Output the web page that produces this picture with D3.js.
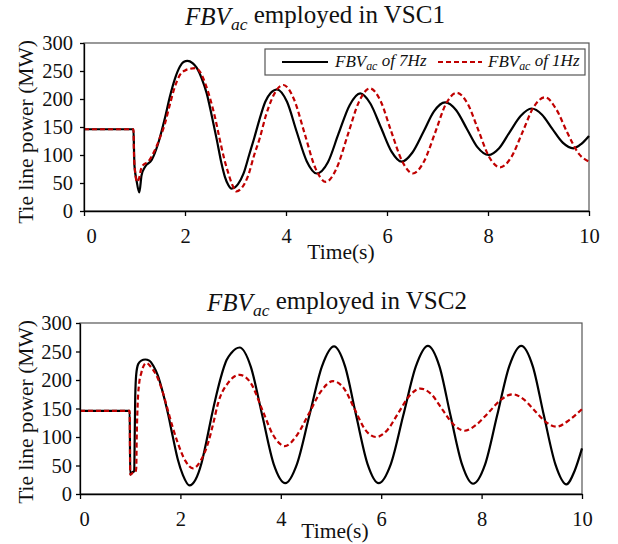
<!DOCTYPE html>
<html lang="en">
<head>
<meta charset="UTF-8">
<title>Tie line power</title>
<script src="https://d3js.org/d3.v7.min.js"></script>
<style>
  body { margin: 0; background: #fff; }
  svg text { font-family: "Liberation Serif", "Times New Roman", serif; fill: #111; }
  .axis path, .axis line { stroke: #000; stroke-width: 1.3px; }
  .axis text { font-size: 20.5px; font-family: "Liberation Serif", "Times New Roman", serif; fill: #111; }
  .frame { fill: none; stroke: #555; stroke-width: 1.2px; }
  .line7 { fill: none; stroke: #000; stroke-width: 2.2px; }
  .line1 { fill: none; stroke: #c00000; stroke-width: 2.2px; stroke-dasharray: 5,3; }
</style>
</head>
<body>
<div id="chart"></div>
<script>
// axis ticks
const xTicks = [0, 2, 4, 6, 8, 10];
const yTicks = [0, 50, 100, 150, 200, 250, 300];
const legendLabels = ["of 7Hz", "of 1Hz"];

// FBVac employed in VSC1  [time s, MW]
const vsc1_7Hz = [[0,146],[0.98,146],[0.99,110],[1.0,80],[1.04,55],[1.095,33],[1.14,64],[1.21,79],[1.34,91],[1.47,121],
  [1.60,165],[1.70,204],[1.80,236],[1.90,258],[1.97,266],[2.05,268],[2.15,264],[2.23,256],[2.33,237],[2.43,210],
  [2.53,170],[2.63,127],[2.72,86],[2.79,61],[2.86,46],[2.92,40],[3.05,48],[3.16,67],[3.27,100],[3.37,130],[3.48,165],
  [3.59,195],[3.70,211],[3.82,217],[4.02,195],[4.21,142],[4.41,89],[4.61,67],[4.83,87],[5.04,138],[5.26,189],[5.47,210],
  [5.67,192],[5.88,149],[6.09,106],[6.29,88],[6.50,104],[6.72,141],[6.93,178],[7.15,194],[7.37,180],[7.58,147],[7.79,114],
  [8.01,100],[8.22,112],[8.43,141],[8.65,170],[8.86,183],[9.07,172],[9.27,147],[9.48,122],[9.69,112],[9.85,120],[10,134]];

const vsc1_1Hz = [[0,146],[0.98,146],[0.99,100],[1.01,72],[1.05,52],[1.09,58],[1.13,75],[1.17,82],[1.27,88],[1.40,108],
  [1.50,130],[1.60,155],[1.70,190],[1.80,222],[1.90,243],[2.0,251],[2.1,254],[2.2,255],[2.3,248],[2.4,228],[2.5,200],
  [2.6,165],[2.69,127],[2.78,92],[2.86,67],[2.94,46],[3.02,35],[3.13,42],[3.25,63],[3.37,100],[3.48,130],[3.60,170],
  [3.72,200],[3.83,218],[3.95,225],[4.16,199],[4.37,138],[4.58,77],[4.79,52],[5.0,76],[5.22,135],[5.44,194],[5.66,219],
  [5.87,197],[6.08,143],[6.3,89],[6.51,67],[6.73,88],[6.95,139],[7.16,190],[7.38,211],[7.6,191],[7.81,144],[8.02,97],
  [8.24,78],[8.46,96],[8.68,140],[8.9,185],[9.13,203],[9.35,182],[9.57,140],[9.8,102],[10,88]];

// FBVac employed in VSC2
const vsc2_7Hz = [[0,146],[0.99,146],[1.0,34],[1.04,38],[1.08,40],[1.09,100],[1.10,170],[1.12,210],[1.16,228],[1.22,234],
  [1.30,236],[1.38,234],[1.46,225],[1.55,208],[1.65,178],[1.75,142],[1.85,100],[1.95,60],[2.05,33],[2.18,15],[2.30,25],
  [2.42,54],[2.52,93],[2.62,136],[2.72,175],[2.81,206],[2.92,235],[3.01,247],[3.18,257],[3.40,224],[3.63,138],[3.86,52],
  [4.09,19],[4.32,52],[4.57,138],[4.82,224],[5.06,259],[5.28,224],[5.50,138],[5.73,52],[5.95,19],[6.19,52],[6.44,138],
  [6.69,224],[6.93,260],[7.16,224],[7.38,138],[7.61,52],[7.83,18],[8.07,52],[8.31,138],[8.55,224],[8.79,260],[9.02,224],
  [9.24,138],[9.47,52],[9.69,17],[9.85,40],[10,80]];

const vsc2_1Hz = [[0,146],[0.99,146],[1.0,34],[1.05,37],[1.10,38],[1.12,45],[1.13,100],[1.15,160],[1.18,195],[1.22,212],
  [1.32,230],[1.42,222],[1.55,203],[1.65,178],[1.75,147],[1.85,116],[1.95,89],[2.1,58],[2.25,45],[2.4,58],[2.55,89],
  [2.65,122],[2.75,159],[2.95,195],[3.18,209],[3.40,195],[3.63,148],[3.85,103],[4.08,84],[4.32,103],[4.56,141],[4.8,180],
  [5.04,198],[5.26,185],[5.47,149],[5.68,113],[5.90,100],[6.12,112],[6.34,142],[6.56,172],[6.78,185],[7.0,175],[7.22,148],
  [7.44,122],[7.66,111],[7.9,122],[8.14,143],[8.38,165],[8.62,175],[8.84,166],[9.05,147],[9.27,127],[9.49,118],[9.75,130],[10,149]];

const svg = d3.select("#chart").append("svg")
    .attr("width", 618)
    .attr("height", 544);

function subText(sel, main, sub, rest, italicRest) {
    sel.append("tspan").attr("font-style", "italic").text(main);
    sel.append("tspan").attr("font-style", "italic").attr("font-size", "70%").attr("dy", "0.28em").text(sub);
    sel.append("tspan").attr("font-style", italicRest ? "italic" : "normal").attr("dy", "-0.28em").text(rest);
}

function drawPanel(p) {
    const x = d3.scaleLinear().domain([0, 10]).range([p.left, p.right]);
    const y = d3.scaleLinear().domain([0, 300]).range([p.bottom, p.top]);

    svg.append("rect")
        .attr("class", "frame")
        .attr("x", p.left).attr("y", p.top)
        .attr("width", p.right - p.left).attr("height", p.bottom - p.top);

    const line = d3.line()
        .x(d => x(d[0]))
        .y(d => y(d[1]))
        .curve(d3.curveMonotoneX);

    svg.append("path").datum(p.s7).attr("class", "line7").attr("d", line);
    svg.append("path").datum(p.s1).attr("class", "line1").attr("d", line);

    const xa = svg.append("g")
        .attr("class", "axis")
        .attr("transform", `translate(0,${p.bottom})`)
        .call(d3.axisBottom(x).tickValues(xTicks).tickSize(5).tickSizeOuter(0).tickPadding(p.xPad));
    // first label sits a little right of its tick in the original
    xa.selectAll(".tick text").filter(d => d === 0).attr("dx", p.zeroDx);

    svg.append("g")
        .attr("class", "axis")
        .attr("transform", `translate(${p.left},0)`)
        .call(d3.axisLeft(y).tickValues(yTicks).tickSize(4).tickSizeOuter(0).tickPadding(p.yPad));

    svg.append("text")
        .attr("x", p.timeX).attr("y", p.timeY)
        .attr("text-anchor", "middle")
        .attr("font-size", 21.5)
        .text("Time(s)");

    svg.append("text")
        .attr("transform", `translate(33,${p.labelY}) rotate(-90)`)
        .attr("text-anchor", "middle")
        .attr("font-size", 21.5)
        .text("Tie line power (MW)");

    const t = svg.append("text")
        .attr("x", p.titleX).attr("y", p.titleY)
        .attr("text-anchor", "middle")
        .attr("font-size", 25);
    subText(t, "FBV", "ac", " employed in " + p.name, false);
}

drawPanel({ name: "VSC1", left: 84, right: 589, top: 43, bottom: 211, s7: vsc1_7Hz, s1: vsc1_1Hz,
    xPad: 12, yPad: 7, zeroDx: 7, timeX: 341, timeY: 259, labelY: 132, titleX: 315, titleY: 25 });
drawPanel({ name: "VSC2", left: 80, right: 582, top: 323, bottom: 494, s7: vsc2_7Hz, s1: vsc2_1Hz,
    xPad: 12, yPad: 4, zeroDx: 4, timeX: 335, timeY: 538, labelY: 412, titleX: 337, titleY: 311 });

// legend (top panel)
const lg = svg.append("g");
lg.append("rect")
    .attr("x", 265).attr("y", 49).attr("width", 320).attr("height", 26)
    .attr("fill", "#fff").attr("stroke", "#555").attr("stroke-width", 1.2);
lg.append("line").attr("class", "line7").attr("x1", 282).attr("x2", 328).attr("y1", 62).attr("y2", 62);
lg.append("line").attr("class", "line1").attr("x1", 438).attr("x2", 482).attr("y1", 62).attr("y2", 62);
const l1 = lg.append("text").attr("x", 335).attr("y", 67).attr("font-size", 17);
subText(l1, "FBV", "ac", " " + legendLabels[0], true);
const l2 = lg.append("text").attr("x", 488).attr("y", 67).attr("font-size", 17);
subText(l2, "FBV", "ac", " " + legendLabels[1], true);
</script>
</body>
</html>
